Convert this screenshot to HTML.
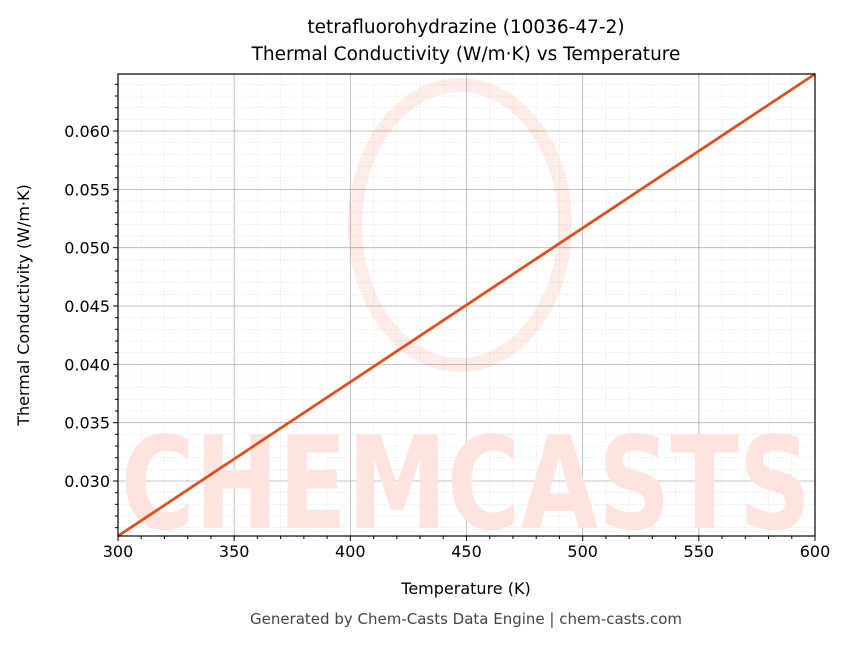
<!DOCTYPE html>
<html><head><meta charset="utf-8"><style>
body{margin:0;background:#fff}
svg text{font-family:"DejaVu Sans","Liberation Sans",sans-serif;fill:#000}
</style></head><body>
<svg id="s" width="850" height="644" xmlns="http://www.w3.org/2000/svg">
<rect width="850" height="644" fill="#fff"/>
<g id="grid"></g>
<g opacity="0.1" fill="none" stroke="#f04020">
<ellipse cx="460" cy="225" rx="105" ry="140" stroke-width="14"/>
</g>
<text x="466" y="528" font-size="128" font-weight="bold" text-anchor="middle" style="fill:#fde4df" textLength="690" lengthAdjust="spacingAndGlyphs">CHEMCASTS</text>
<line x1="118" y1="536" x2="815" y2="74" stroke="#e0501e" stroke-width="2.8"/>
<rect x="118" y="74" width="697" height="462" fill="none" stroke="#000" stroke-width="1.2"/>
<g id="ticks"></g>
<text x="466" y="33" font-size="18.5" text-anchor="middle">tetrafluorohydrazine (10036-47-2)</text>
<text x="466" y="60" font-size="18.5" text-anchor="middle">Thermal Conductivity (W/m·K) vs Temperature</text>
<text x="466" y="594" font-size="16" text-anchor="middle">Temperature (K)</text>
<text transform="translate(29,305) rotate(-90)" font-size="16" text-anchor="middle">Thermal Conductivity (W/m·K)</text>
<text x="466" y="624" font-size="15" text-anchor="middle" style="fill:#444">Generated by Chem-Casts Data Engine | chem-casts.com</text>
</svg>
<script>
var g=document.getElementById('grid'),t=document.getElementById('ticks'),h='',k='';
var X0=118,X1=815,Y0=536,Y1=74;
function xp(v){return X0+(v-300)/300*(X1-X0)}
function yp(v){return 481-(v-0.030)/0.005*58.33}
for(var v=300;v<=600;v+=10){var x=xp(v),maj=(v%50==0);
h+='<line x1="'+x+'" y1="'+Y1+'" x2="'+x+'" y2="'+Y0+'" stroke="'+(maj?'#b0b0b0':'#e4e4e4')+'" stroke-width="'+(maj?0.8:0.6)+'"'+(maj?'':' stroke-dasharray="2,1.5"')+'/>';
k+='<line x1="'+x+'" y1="'+Y0+'" x2="'+x+'" y2="'+(Y0+(maj?5:3))+'" stroke="#000"/>';
if(maj)k+='<text x="'+x+'" y="'+(Y0+21)+'" font-size="16" text-anchor="middle">'+v+'</text>';}
for(var i=25;i<=65;i++){var v=i/1000,y=yp(v);if(y<Y1||y>Y0)continue;var maj=(i%5==0);
h+='<line x1="'+X0+'" y1="'+y+'" x2="'+X1+'" y2="'+y+'" stroke="'+(maj?'#b0b0b0':'#e4e4e4')+'" stroke-width="'+(maj?0.8:0.6)+'"'+(maj?'':' stroke-dasharray="2,1.5"')+'/>';
k+='<line x1="'+X0+'" y1="'+y+'" x2="'+(X0-(maj?5:3))+'" y2="'+y+'" stroke="#000"/>';
if(maj)k+='<text x="'+(X0-8)+'" y="'+(y+6)+'" font-size="16" text-anchor="end">'+v.toFixed(3)+'</text>';}
g.innerHTML=h;t.innerHTML=k;
</script>
</body></html>
